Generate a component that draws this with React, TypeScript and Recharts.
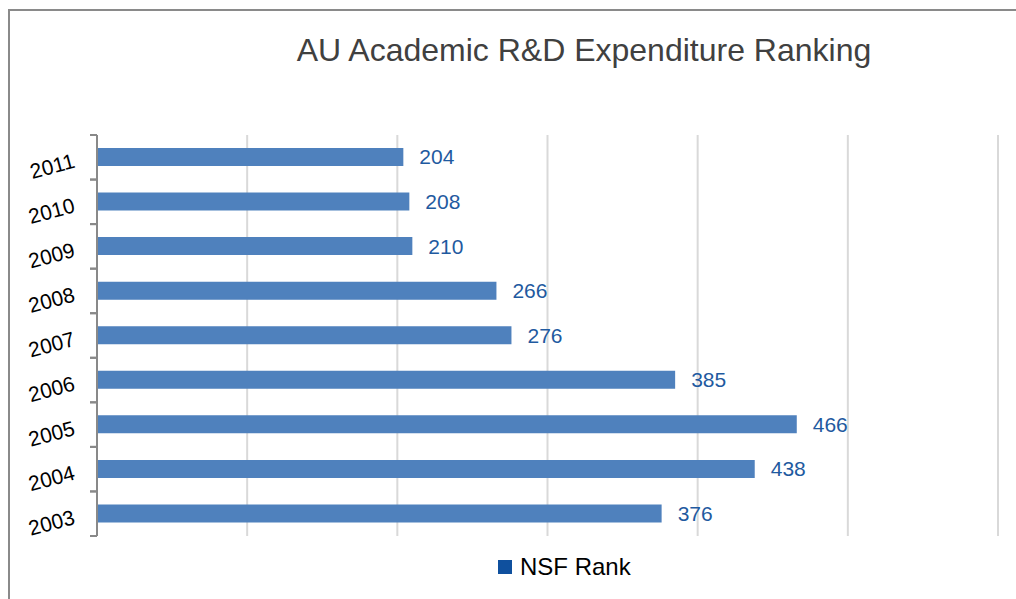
import React from 'react';
import { BarChart, Bar, XAxis, YAxis, CartesianGrid, LabelList } from 'recharts';

const years = ['2011', '2010', '2009', '2008', '2007', '2006', '2005', '2004', '2003'];
const nsfRank = [204, 208, 210, 266, 276, 385, 466, 438, 376];
const xTicks = [0, 100, 200, 300, 400, 500, 600];

const data = years.map((year, i) => ({ year, rank: nsfRank[i] }));

const FONT = '"Liberation Sans", Arial, sans-serif';
const PLOT_TOP = 135;
const PLOT_BOTTOM = 536;
const band = (PLOT_BOTTOM - PLOT_TOP) / years.length;

const YearTick = (props: any) => {
  const { x, y, payload } = props;
  const ax = x + 12;
  return (
    <g>
      <line x1={ax - 7} x2={ax} y1={y - band / 2} y2={y - band / 2} stroke="#898989" strokeWidth={2} />
      <line x1={ax - 7} x2={ax} y1={y + band / 2} y2={y + band / 2} stroke="#898989" strokeWidth={2} />
      <g transform={`translate(${x - 9},${y + 10}) rotate(-15)`}>
        <text textAnchor="end" fill="#000" fontSize={21} fontFamily={FONT}>
          {payload.value}
        </text>
      </g>
    </g>
  );
};

const NoTick = () => <g />;

export default function App() {
  return (
    <div style={{ position: 'absolute', left: 0, top: 0, width: 1016, height: 599, background: '#fff', overflow: 'hidden', fontFamily: FONT }}>
      <div style={{ position: 'absolute', left: 8, top: 9, width: 1100, height: 700, borderLeft: '2px solid #8a8a8a', borderTop: '2px solid #8a8a8a' }} />
      <div style={{ position: 'absolute', left: 0, top: 32, width: 1168, textAlign: 'center', fontSize: 32, color: '#404040', lineHeight: '36px' }}>
        AU Academic R&amp;D Expenditure Ranking
      </div>
      <BarChart
        width={1016}
        height={599}
        data={data}
        layout="vertical"
        margin={{ top: PLOT_TOP, right: 18, bottom: 599 - PLOT_BOTTOM, left: 0 }}
        style={{ position: 'absolute', left: 0, top: 0 }}
      >
        <CartesianGrid horizontal={false} stroke="#d9d9d9" strokeWidth={2} />
        <XAxis type="number" domain={[0, 600]} ticks={xTicks} tick={<NoTick />} axisLine={false} tickLine={false} height={0} />
        <YAxis
          type="category"
          dataKey="year"
          width={97}
          axisLine={{ stroke: '#898989', strokeWidth: 2 }}
          tickLine={false}
          tickSize={0}
          tickMargin={12}
          tick={<YearTick />}
          interval={0}
        />
        <Bar dataKey="rank" fill="#4f81bd" barSize={18} isAnimationActive={false}>
          <LabelList dataKey="rank" position="right" offset={16} fill="#1f5aa0" fontSize={21} fontFamily={FONT} />
        </Bar>
      </BarChart>
      <div style={{ position: 'absolute', left: 498, top: 553, display: 'flex', alignItems: 'center', fontSize: 24, color: '#000', lineHeight: '28px' }}>
        <span style={{ display: 'inline-block', width: 14, height: 14, background: '#0f509e', marginRight: 8 }} />
        <span>NSF Rank</span>
      </div>
    </div>
  );
}
